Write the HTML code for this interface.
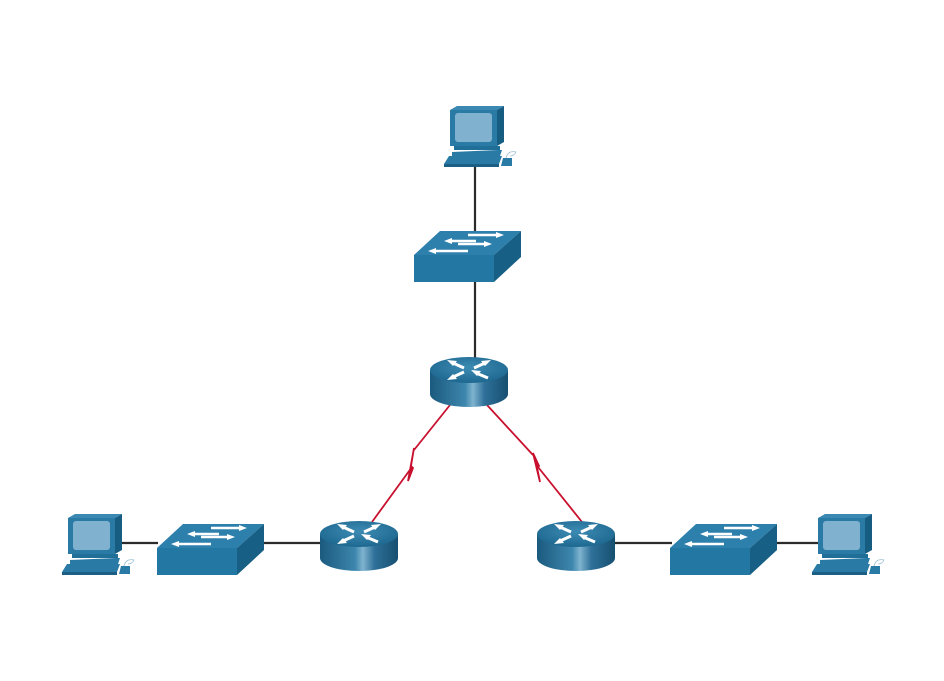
<!DOCTYPE html>
<html><head><meta charset="utf-8"><style>html,body{margin:0;padding:0;background:#fff}svg{display:block}</style></head>
<body>
<svg width="944" height="681" viewBox="0 0 944 681" xmlns="http://www.w3.org/2000/svg">
<defs>
<linearGradient id="rb" x1="0" x2="1" y1="0" y2="0">
<stop offset="0" stop-color="#1b5a7e"/><stop offset="0.45" stop-color="#3d86ad"/><stop offset="0.55" stop-color="#7fb3cf"/><stop offset="0.7" stop-color="#2e7099"/><stop offset="1" stop-color="#174f70"/>
</linearGradient>
<radialGradient id="rt" cx="0.5" cy="0.4" r="0.6"><stop offset="0" stop-color="#3d8bb3"/><stop offset="1" stop-color="#1e6890"/></radialGradient>
<g id="pc">
<polygon points="0,4 7,0 54,0 47,4" fill="#3b89b3"/>
<polygon points="47,4 54,0 54,36 47,40" fill="#175d82"/>
<rect x="0" y="4" width="47" height="36" fill="#2a7aa6"/>
<rect x="5" y="7" width="37" height="29" rx="3" fill="#80b2d0"/>
<polygon points="4,40 50,40 50,44 4,44" fill="#1f6f98"/>
<polygon points="2,46 48,44 52,44 50,50 2,50" fill="#2a7aa6"/>
<polygon points="-6,58 -1,50 52,50 49,58" fill="#2a7aa6"/>
<rect x="-6" y="58" width="55" height="3" fill="#1b5f84"/>
<polygon points="53,52 62,52 62,60 51,60" fill="#2a7aa6"/>
<path d="M56,52 Q58,44 66,46 Q64,50 60,50" fill="none" stroke="#9bbfd4" stroke-width="0.8"/>
</g>
<g id="sw">
<polygon points="0,24 26,0 107,0 80,24" fill="#2d7fac"/>
<polygon points="80,24 107,0 107,26 80,51" fill="#185f85"/>
<rect x="0" y="24" width="80" height="27" fill="#2277a3"/>
<g stroke="#fff" stroke-width="2.4" fill="#fff">
<line x1="54" y1="4" x2="82" y2="4"/><polygon points="90,4 82,1 82,7" stroke="none"/>
<line x1="38" y1="10" x2="62" y2="10"/><polygon points="30,10 38,7 38,13" stroke="none"/>
<line x1="44" y1="13" x2="70" y2="13"/><polygon points="78,13 70,10 70,16" stroke="none"/>
<line x1="22" y1="20" x2="54" y2="20"/><polygon points="14,20 22,17 22,23" stroke="none"/>
</g>
</g>
<g id="rt0">
<path d="M0,13 L0,37 A39,13 0 0 0 78,37 L78,13 Z" fill="url(#rb)"/>
<ellipse cx="39" cy="13" rx="39" ry="13" fill="url(#rt)"/>
<g stroke="#fff" stroke-width="3" fill="#fff">
<line x1="23" y1="6" x2="34" y2="11"/><polygon points="17,3 27,4 23,9" stroke="none"/>
<line x1="44" y1="11" x2="55" y2="6"/><polygon points="61,3 51,4 55,9" stroke="none"/>
<line x1="23" y1="20" x2="34" y2="15"/><polygon points="17,23 27,22 23,17" stroke="none"/>
<line x1="46" y1="16" x2="58" y2="21"/><polygon points="41,13 51,14 47,19" stroke="none"/>
</g>
</g>
</defs>
<g stroke="#2b2b2b" stroke-width="2.2">
<line x1="475" y1="166" x2="475" y2="232"/>
<line x1="475" y1="282" x2="475" y2="360"/>
<line x1="120" y1="543" x2="158" y2="543"/>
<line x1="262" y1="543" x2="322" y2="543"/>
<line x1="612" y1="543" x2="672" y2="543"/>
<line x1="775" y1="543" x2="820" y2="543"/>
</g>
<g stroke="#c8102e" stroke-width="1.8" fill="#c8102e" stroke-linejoin="miter">
<polyline fill="none" points="450,405 414,450"/>
<polygon points="414,448 408,481 413,468 411,466"/>
<polyline fill="none" points="412,467 372,522"/>
<polyline fill="none" points="487,405 533,455"/>
<polygon points="533,453 540,482 537,467 539,466"/>
<polyline fill="none" points="538,467 582,522"/>
</g>
<use href="#pc" x="450" y="106"/>
<use href="#pc" x="68" y="514"/>
<use href="#pc" x="818" y="514"/>
<use href="#sw" x="414" y="231"/>
<use href="#sw" x="157" y="524"/>
<use href="#sw" x="670" y="524"/>
<use href="#rt0" x="430" y="357"/>
<use href="#rt0" x="320" y="521"/>
<use href="#rt0" x="537" y="521"/>
</svg>
</body></html>
